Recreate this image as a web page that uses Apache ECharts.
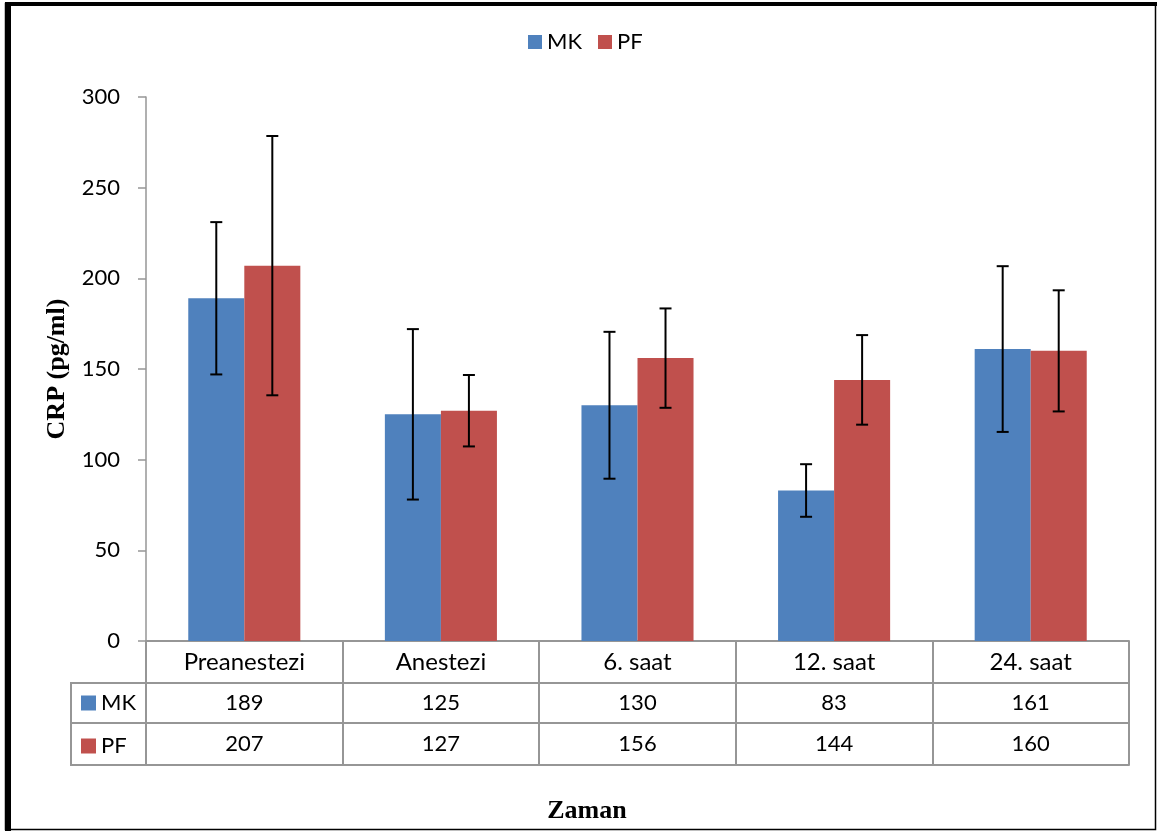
<!DOCTYPE html>
<html>
<head>
<meta charset="utf-8">
<script src="https://cdn.jsdelivr.net/npm/echarts@6/dist/echarts.min.js"></script>
<style>
html,body{margin:0;padding:0;background:#fff;}
#chart{width:1157px;height:832px;}
</style>
</head>
<body>
<div id="chart"></div>
<script>
// ---- data ----
var categories = ['Preanestezi', 'Anestezi', '6. saat', '12. saat', '24. saat'];
var mkValues = [189, 125, 130, 83, 161];
var pfValues = [207, 127, 156, 144, 160];
var mkErrors = [42, 47, 40.5, 14.5, 45.7];
var pfErrors = [71.5, 19.7, 27.4, 24.7, 33.4];
var yTicks = [0, 50, 100, 150, 200, 250, 300];

var BLUE = '#4F81BD', RED = '#C0504D', GRID = '#969696';
var FONT = 'Lato';
var CAT_GAP = 0.43;

function errData(vals, errs) {
  return vals.map(function (v, i) { return [i, v, errs[i]]; });
}

function errRender(side) {
  return function (params, api) {
    var i = api.value(0), v = api.value(1), e = api.value(2);
    var band = api.size([1, 0])[0];
    var off = side * band * (1 - CAT_GAP) / 4;
    var cx = api.coord([i, v])[0] + off;
    var yt = api.coord([i, v + e])[1];
    var yb = api.coord([i, v - e])[1];
    var cap = 6;
    var st = { stroke: '#000', lineWidth: 2 };
    return {
      type: 'group',
      children: [
        { type: 'line', shape: { x1: cx, y1: yt, x2: cx, y2: yb }, style: st },
        { type: 'line', shape: { x1: cx - cap, y1: yt, x2: cx + cap, y2: yt }, style: st },
        { type: 'line', shape: { x1: cx - cap, y1: yb, x2: cx + cap, y2: yb }, style: st }
      ]
    };
  };
}

var chart = echarts.init(document.getElementById('chart'));

var lineSt = { color: GRID, width: 2 };

var option = {
  backgroundColor: '#fff',
  animation: false,
  textStyle: { fontFamily: FONT },
  title: {
    text: 'Zaman', left: 587, top: 798, textAlign: 'center', padding: 0,
    textStyle: { fontFamily: 'Liberation Serif', fontWeight: 'bold', fontSize: 26, color: '#000' }
  },
  legend: [
    {
      data: ['MK', 'PF'], left: 528, top: 31, padding: 0, itemWidth: 14, itemHeight: 14, itemGap: 16,
      icon: 'rect', selectedMode: false,
      textStyle: { fontFamily: FONT, fontSize: 22, color: '#000' }
    },
    {
      data: ['MK', 'PF'], orient: 'vertical', left: 81, top: 692, padding: 0, itemWidth: 15, itemHeight: 15, itemGap: 21,
      icon: 'rect', selectedMode: false,
      textStyle: { fontFamily: FONT, fontSize: 22, color: '#000' }
    }
  ],
  grid: { left: 146, right: 28, top: 97, bottom: 191, containLabel: false },
  xAxis: [
    {
      type: 'category', data: categories, position: 'bottom',
      axisLine: { show: true, lineStyle: lineSt },
      axisTick: { show: true, length: 124, interval: 0, lineStyle: lineSt },
      axisLabel: { fontSize: 24, color: '#000', margin: 9, fontFamily: FONT, interval: 0 }
    },
    {
      type: 'category', data: categories, position: 'bottom', offset: 42,
      axisLine: { show: true, lineStyle: lineSt },
      axisTick: { show: false },
      axisLabel: { fontSize: 22, color: '#000', margin: 9, fontFamily: FONT, interval: 0,
        formatter: function (v, i) { return String(mkValues[i]); } }
    },
    {
      type: 'category', data: categories, position: 'bottom', offset: 82,
      axisLine: { show: true, lineStyle: lineSt },
      axisTick: { show: false },
      axisLabel: { fontSize: 22, color: '#000', margin: 10, fontFamily: FONT, interval: 0,
        formatter: function (v, i) { return String(pfValues[i]); } }
    },
    {
      type: 'category', data: categories, position: 'bottom', offset: 124,
      axisLine: { show: true, lineStyle: lineSt },
      axisTick: { show: false },
      axisLabel: { show: false }
    }
  ],
  yAxis: {
    type: 'value', min: yTicks[0], max: yTicks[yTicks.length - 1], interval: 50,
    name: 'CRP (pg/ml)', nameLocation: 'middle', nameGap: 76,
    nameTextStyle: { fontFamily: 'Liberation Serif', fontWeight: 'bold', fontSize: 26, color: '#000' },
    axisLine: { show: true, lineStyle: { color: GRID, width: 1.5 } },
    axisTick: { show: true, length: 8, lineStyle: { color: GRID, width: 1.5 } },
    splitLine: { show: false },
    axisLabel: { fontSize: 22, color: '#000', margin: 26, fontFamily: FONT }
  },
  series: [
    { name: 'MK', type: 'bar', data: mkValues, itemStyle: { color: BLUE }, barGap: '0%', barCategoryGap: (CAT_GAP * 100) + '%' },
    { name: 'PF', type: 'bar', data: pfValues, itemStyle: { color: RED }, barGap: '0%', barCategoryGap: (CAT_GAP * 100) + '%' },
    { name: 'MK err', type: 'custom', data: errData(mkValues, mkErrors), renderItem: errRender(-1), z: 10, silent: true },
    { name: 'PF err', type: 'custom', data: errData(pfValues, pfErrors), renderItem: errRender(1), z: 10, silent: true }
  ],
  graphic: [
    // outer frame
    { type: 'rect', shape: { x: 5.5, y: 3.5, width: 1150, height: 826 }, style: { fill: null, stroke: '#000', lineWidth: 1.5 }, silent: true },
    { type: 'rect', shape: { x: 5, y: 2, width: 1152, height: 4 }, style: { fill: '#000' }, silent: true },
    { type: 'rect', shape: { x: 5, y: 2, width: 6, height: 829 }, style: { fill: '#000' }, silent: true },
    // left part of data table (legend key column)
    { type: 'line', shape: { x1: 71, y1: 683, x2: 147, y2: 683 }, style: { stroke: GRID, lineWidth: 2 }, silent: true },
    { type: 'line', shape: { x1: 71, y1: 723, x2: 147, y2: 723 }, style: { stroke: GRID, lineWidth: 2 }, silent: true },
    { type: 'line', shape: { x1: 71, y1: 765, x2: 147, y2: 765 }, style: { stroke: GRID, lineWidth: 2 }, silent: true },
    { type: 'line', shape: { x1: 71, y1: 682, x2: 71, y2: 766 }, style: { stroke: GRID, lineWidth: 2 }, silent: true }
  ]
};

chart.setOption(option);
</script>
</body>
</html>
